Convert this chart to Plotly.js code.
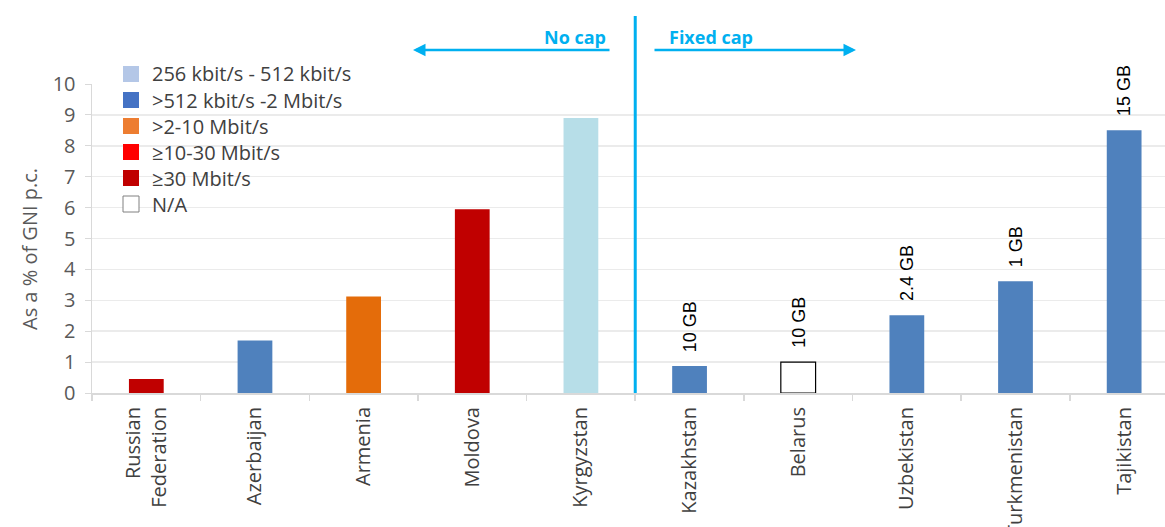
<!DOCTYPE html>
<html>
<head>
<meta charset="utf-8">
<script src="https://cdn.plot.ly/plotly-3.0.1.min.js"></script>
<style>html,body{margin:0;padding:0;background:#fff;}#chart{width:1165px;height:527px;}</style>
</head>
<body>
<div id="chart"></div>
<script>
// ---- data ----
const countries = ['Russian<br>Federation','Azerbaijan','Armenia','Moldova','Kyrgyzstan','Kazakhstan','Belarus','Uzbekistan','Turkmenistan','Tajikistan'];
const pricePctGNI = [0.45, 1.7, 3.12, 5.95, 8.9, 0.87, 1.0, 2.52, 3.62, 8.5];
const barColors = ['#C00000','#4F81BD','#E46C0A','#C00000','#B7DEE8','#4F81BD','#FFFFFF','#4F81BD','#4F81BD','#4F81BD'];
const capLabels = ['', '', '', '', '', '10 GB', '10 GB', '2.4 GB', '1 GB', '15 GB'];
const legendLabels = ['256 kbit/s - 512 kbit/s', '>512 kbit/s -2 Mbit/s', '>2-10 Mbit/s', '≥10-30 Mbit/s', '≥30 Mbit/s', 'N/A'];
const legendColors = ['#B4C7E7', '#4472C4', '#ED7D31', '#FF0000', '#C00000', '#FFFFFF'];
const yTicks = [0,1,2,3,4,5,6,7,8,9,10];
const yTitle = 'As a % of GNI p.c.';

// ---- geometry helpers (pixel -> paper) ----
const W = 1165, H = 527;
const mL = 92, mR = 0, mT = 84, mB = 134;
const pw = W - mL - mR, ph = H - mT - mB;
const px = x => (x - mL) / pw;
const py = y => (H - mB - y) / ph;

const CYAN = '#00B0F0';
const FONT = 'Open Sans';
const shapes = [];
const annotations = [];

// divider line between "No cap" and "Fixed cap"
shapes.push({type:'line', xref:'x', yref:'paper', x0:4.5, x1:4.5, y0:0, y1:py(16), line:{color:CYAN, width:3}});

// legend (manual)
legendLabels.forEach((lab, i) => {
  const cy = 74 + i * 26;
  shapes.push({type:'rect', xref:'paper', yref:'paper', x0:px(123), x1:px(139), y0:py(cy+8), y1:py(cy-8),
    fillcolor:legendColors[i], line:{color: i === 5 ? '#808080' : legendColors[i], width: i === 5 ? 1 : 0}});
  annotations.push({xref:'paper', yref:'paper', x:px(150), y:py(cy), xanchor:'left', yanchor:'middle',
    text:lab, showarrow:false, font:{family:FONT, size:20, color:'#404040'}});
});

// y-axis title
annotations.push({xref:'paper', yref:'paper', x:px(29), y:py(249), xanchor:'center', yanchor:'middle',
  textangle:-90, text:yTitle, showarrow:false, font:{family:FONT, size:20, color:'#595959'}});

// arrows and header texts
annotations.push({xref:'paper', yref:'paper', x:px(413), y:py(50), ax:198, ay:0, axref:'pixel', ayref:'pixel',
  text:'', showarrow:true, arrowhead:2, arrowsize:1, arrowwidth:2.5, arrowcolor:CYAN, standoff:0, startstandoff:0});
annotations.push({xref:'paper', yref:'paper', x:px(856), y:py(50), ax:-203, ay:0, axref:'pixel', ayref:'pixel',
  text:'', showarrow:true, arrowhead:2, arrowsize:1, arrowwidth:2.5, arrowcolor:CYAN, standoff:0, startstandoff:0});
annotations.push({xref:'paper', yref:'paper', x:px(608), y:py(37), xanchor:'right', yanchor:'middle',
  text:'<b>No cap</b>', showarrow:false, font:{family:FONT, size:18, color:CYAN}});
annotations.push({xref:'paper', yref:'paper', x:px(667), y:py(37), xanchor:'left', yanchor:'middle',
  text:'<b>Fixed cap</b>', showarrow:false, font:{family:FONT, size:18, color:CYAN}});

// cap labels above bars
capLabels.forEach((lab, i) => {
  if (!lab) return;
  annotations.push({xref:'x', yref:'y', x:countries[i], y:pricePctGNI[i], xanchor:'center', yanchor:'bottom',
    yshift:12, textangle:-90, text:lab, showarrow:false,
    font:{family:'Liberation Sans', size:18, color:'#000000'}});
});

const trace = {
  type:'bar', x:countries, y:pricePctGNI, width:0.32,
  marker:{color:barColors, line:{color:barColors.map(c => c === '#FFFFFF' ? '#000000' : c), width:barColors.map(c => c === '#FFFFFF' ? 1.2 : 0)}},
  hoverinfo:'x+y', showlegend:false
};

const layout = {
  width:W, height:H,
  margin:{l:mL, r:mR, t:mT, b:mB},
  paper_bgcolor:'#FFFFFF', plot_bgcolor:'#FFFFFF',
  showlegend:false,
  font:{family:FONT, color:'#595959'},
  xaxis:{type:'category', range:[-0.5, 9.376], showgrid:false, showline:true, linecolor:'#D9D9D9', linewidth:2,
    ticks:'outside', tickson:'boundaries', ticklen:6, tickcolor:'#D9D9D9', tickwidth:1.5,
    tickangle:-90, ticklabelstandoff:4, tickfont:{family:FONT, size:20, color:'#404040'}, fixedrange:true, zeroline:false},
  yaxis:{range:[0,10], tickvals:yTicks, showgrid:true, gridcolor:'#EBEBEB', gridwidth:1.5,
    showline:true, linecolor:'#D9D9D9', linewidth:1.5, ticks:'outside', ticklen:6, tickcolor:'#D9D9D9',
    ticklabelstandoff:5, tickfont:{family:FONT, size:20, color:'#595959'}, zeroline:false, fixedrange:true},
  bargap:0.68,
  shapes:shapes, annotations:annotations
};

Plotly.newPlot('chart', [trace], layout, {displayModeBar:false, staticPlot:true});
</script>
</body>
</html>
